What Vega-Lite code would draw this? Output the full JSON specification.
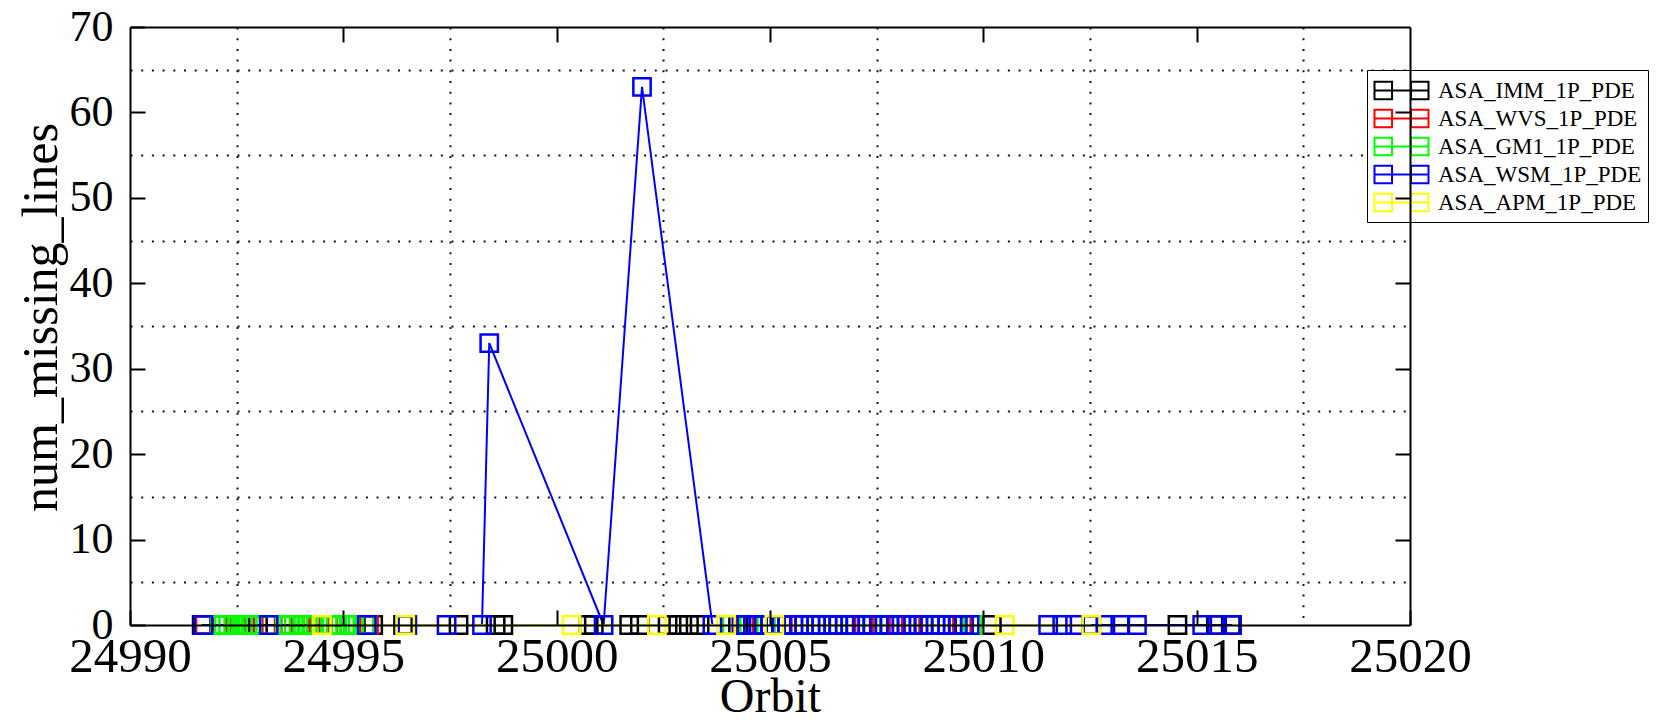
{
  "$schema": "https://vega.github.io/schema/vega-lite/v6.json",
  "width": 1280,
  "height": 598,
  "autosize": "none",
  "padding": {"left": 130, "top": 27, "right": 249, "bottom": 99},
  "background": "white",
  "config": {"view": {"stroke": null}, "font": "Liberation Serif"},
  "data": {"values": [
    {"orbit": 24991.68, "num_missing_lines": 0, "product": "ASA_IMM_1P_PDE"},
    {"orbit": 24993.0, "num_missing_lines": 0, "product": "ASA_IMM_1P_PDE"},
    {"orbit": 24995.7, "num_missing_lines": 0, "product": "ASA_IMM_1P_PDE"},
    {"orbit": 24996.4, "num_missing_lines": 0, "product": "ASA_IMM_1P_PDE"},
    {"orbit": 24997.7, "num_missing_lines": 0, "product": "ASA_IMM_1P_PDE"},
    {"orbit": 24998.57, "num_missing_lines": 0, "product": "ASA_IMM_1P_PDE"},
    {"orbit": 24998.75, "num_missing_lines": 0, "product": "ASA_IMM_1P_PDE"},
    {"orbit": 25000.75, "num_missing_lines": 0, "product": "ASA_IMM_1P_PDE"},
    {"orbit": 25000.87, "num_missing_lines": 0, "product": "ASA_IMM_1P_PDE"},
    {"orbit": 25001.7, "num_missing_lines": 0, "product": "ASA_IMM_1P_PDE"},
    {"orbit": 25001.95, "num_missing_lines": 0, "product": "ASA_IMM_1P_PDE"},
    {"orbit": 25002.6, "num_missing_lines": 0, "product": "ASA_IMM_1P_PDE"},
    {"orbit": 25002.85, "num_missing_lines": 0, "product": "ASA_IMM_1P_PDE"},
    {"orbit": 25003.1, "num_missing_lines": 0, "product": "ASA_IMM_1P_PDE"},
    {"orbit": 25003.35, "num_missing_lines": 0, "product": "ASA_IMM_1P_PDE"},
    {"orbit": 25004.25, "num_missing_lines": 0, "product": "ASA_IMM_1P_PDE"},
    {"orbit": 25010.2, "num_missing_lines": 0, "product": "ASA_IMM_1P_PDE"},
    {"orbit": 25014.55, "num_missing_lines": 0, "product": "ASA_IMM_1P_PDE"},
    {"orbit": 25015.45, "num_missing_lines": 0, "product": "ASA_IMM_1P_PDE"},
    {"orbit": 25015.8, "num_missing_lines": 0, "product": "ASA_IMM_1P_PDE"},

    {"orbit": 24991.75, "num_missing_lines": 0, "product": "ASA_WVS_1P_PDE"},
    {"orbit": 24992.15, "num_missing_lines": 0, "product": "ASA_WVS_1P_PDE"},
    {"orbit": 24992.45, "num_missing_lines": 0, "product": "ASA_WVS_1P_PDE"},
    {"orbit": 24992.7, "num_missing_lines": 0, "product": "ASA_WVS_1P_PDE"},
    {"orbit": 24992.9, "num_missing_lines": 0, "product": "ASA_WVS_1P_PDE"},
    {"orbit": 24993.6, "num_missing_lines": 0, "product": "ASA_WVS_1P_PDE"},
    {"orbit": 24993.75, "num_missing_lines": 0, "product": "ASA_WVS_1P_PDE"},
    {"orbit": 24994.0, "num_missing_lines": 0, "product": "ASA_WVS_1P_PDE"},
    {"orbit": 24994.45, "num_missing_lines": 0, "product": "ASA_WVS_1P_PDE"},
    {"orbit": 24994.65, "num_missing_lines": 0, "product": "ASA_WVS_1P_PDE"},
    {"orbit": 24995.6, "num_missing_lines": 0, "product": "ASA_WVS_1P_PDE"},
    {"orbit": 25004.4, "num_missing_lines": 0, "product": "ASA_WVS_1P_PDE"},
    {"orbit": 25005.3, "num_missing_lines": 0, "product": "ASA_WVS_1P_PDE"},
    {"orbit": 25007.2, "num_missing_lines": 0, "product": "ASA_WVS_1P_PDE"},
    {"orbit": 25007.6, "num_missing_lines": 0, "product": "ASA_WVS_1P_PDE"},
    {"orbit": 25008.3, "num_missing_lines": 0, "product": "ASA_WVS_1P_PDE"},
    {"orbit": 25008.6, "num_missing_lines": 0, "product": "ASA_WVS_1P_PDE"},
    {"orbit": 25009.5, "num_missing_lines": 0, "product": "ASA_WVS_1P_PDE"},

    {"orbit": 24992.1, "num_missing_lines": 0, "product": "ASA_GM1_1P_PDE"},
    {"orbit": 24992.2, "num_missing_lines": 0, "product": "ASA_GM1_1P_PDE"},
    {"orbit": 24992.3, "num_missing_lines": 0, "product": "ASA_GM1_1P_PDE"},
    {"orbit": 24992.42, "num_missing_lines": 0, "product": "ASA_GM1_1P_PDE"},
    {"orbit": 24992.53, "num_missing_lines": 0, "product": "ASA_GM1_1P_PDE"},
    {"orbit": 24992.65, "num_missing_lines": 0, "product": "ASA_GM1_1P_PDE"},
    {"orbit": 24992.76, "num_missing_lines": 0, "product": "ASA_GM1_1P_PDE"},
    {"orbit": 24992.86, "num_missing_lines": 0, "product": "ASA_GM1_1P_PDE"},
    {"orbit": 24993.25, "num_missing_lines": 0, "product": "ASA_GM1_1P_PDE"},
    {"orbit": 24993.63, "num_missing_lines": 0, "product": "ASA_GM1_1P_PDE"},
    {"orbit": 24993.73, "num_missing_lines": 0, "product": "ASA_GM1_1P_PDE"},
    {"orbit": 24993.84, "num_missing_lines": 0, "product": "ASA_GM1_1P_PDE"},
    {"orbit": 24993.95, "num_missing_lines": 0, "product": "ASA_GM1_1P_PDE"},
    {"orbit": 24994.06, "num_missing_lines": 0, "product": "ASA_GM1_1P_PDE"},
    {"orbit": 24994.17, "num_missing_lines": 0, "product": "ASA_GM1_1P_PDE"},
    {"orbit": 24994.28, "num_missing_lines": 0, "product": "ASA_GM1_1P_PDE"},
    {"orbit": 24994.5, "num_missing_lines": 0, "product": "ASA_GM1_1P_PDE"},
    {"orbit": 24994.72, "num_missing_lines": 0, "product": "ASA_GM1_1P_PDE"},
    {"orbit": 24994.82, "num_missing_lines": 0, "product": "ASA_GM1_1P_PDE"},
    {"orbit": 24994.93, "num_missing_lines": 0, "product": "ASA_GM1_1P_PDE"},
    {"orbit": 24995.04, "num_missing_lines": 0, "product": "ASA_GM1_1P_PDE"},
    {"orbit": 24995.15, "num_missing_lines": 0, "product": "ASA_GM1_1P_PDE"},
    {"orbit": 24995.26, "num_missing_lines": 0, "product": "ASA_GM1_1P_PDE"},
    {"orbit": 24995.5, "num_missing_lines": 0, "product": "ASA_GM1_1P_PDE"},
    {"orbit": 25004.1, "num_missing_lines": 0, "product": "ASA_GM1_1P_PDE"},
    {"orbit": 25004.5, "num_missing_lines": 0, "product": "ASA_GM1_1P_PDE"},
    {"orbit": 25004.9, "num_missing_lines": 0, "product": "ASA_GM1_1P_PDE"},
    {"orbit": 25005.4, "num_missing_lines": 0, "product": "ASA_GM1_1P_PDE"},
    {"orbit": 25005.8, "num_missing_lines": 0, "product": "ASA_GM1_1P_PDE"},
    {"orbit": 25006.2, "num_missing_lines": 0, "product": "ASA_GM1_1P_PDE"},
    {"orbit": 25006.6, "num_missing_lines": 0, "product": "ASA_GM1_1P_PDE"},
    {"orbit": 25007.0, "num_missing_lines": 0, "product": "ASA_GM1_1P_PDE"},
    {"orbit": 25007.4, "num_missing_lines": 0, "product": "ASA_GM1_1P_PDE"},
    {"orbit": 25007.8, "num_missing_lines": 0, "product": "ASA_GM1_1P_PDE"},
    {"orbit": 25008.2, "num_missing_lines": 0, "product": "ASA_GM1_1P_PDE"},
    {"orbit": 25008.6, "num_missing_lines": 0, "product": "ASA_GM1_1P_PDE"},
    {"orbit": 25009.0, "num_missing_lines": 0, "product": "ASA_GM1_1P_PDE"},
    {"orbit": 25009.4, "num_missing_lines": 0, "product": "ASA_GM1_1P_PDE"},
    {"orbit": 25009.75, "num_missing_lines": 0, "product": "ASA_GM1_1P_PDE"},

    {"orbit": 24991.72, "num_missing_lines": 0, "product": "ASA_WSM_1P_PDE"},
    {"orbit": 24993.25, "num_missing_lines": 0, "product": "ASA_WSM_1P_PDE"},
    {"orbit": 24995.55, "num_missing_lines": 0, "product": "ASA_WSM_1P_PDE"},
    {"orbit": 24996.5, "num_missing_lines": 0, "product": "ASA_WSM_1P_PDE"},
    {"orbit": 24997.42, "num_missing_lines": 0, "product": "ASA_WSM_1P_PDE"},
    {"orbit": 24998.25, "num_missing_lines": 0, "product": "ASA_WSM_1P_PDE"},
    {"orbit": 24998.42, "num_missing_lines": 33, "product": "ASA_WSM_1P_PDE"},
    {"orbit": 25001.1, "num_missing_lines": 0, "product": "ASA_WSM_1P_PDE"},
    {"orbit": 25002.0, "num_missing_lines": 63, "product": "ASA_WSM_1P_PDE"},
    {"orbit": 25003.65, "num_missing_lines": 0, "product": "ASA_WSM_1P_PDE"},
    {"orbit": 25004.33, "num_missing_lines": 0, "product": "ASA_WSM_1P_PDE"},
    {"orbit": 25004.45, "num_missing_lines": 0, "product": "ASA_WSM_1P_PDE"},
    {"orbit": 25004.6, "num_missing_lines": 0, "product": "ASA_WSM_1P_PDE"},
    {"orbit": 25004.72, "num_missing_lines": 0, "product": "ASA_WSM_1P_PDE"},
    {"orbit": 25004.85, "num_missing_lines": 0, "product": "ASA_WSM_1P_PDE"},
    {"orbit": 25005.0, "num_missing_lines": 0, "product": "ASA_WSM_1P_PDE"},
    {"orbit": 25005.12, "num_missing_lines": 0, "product": "ASA_WSM_1P_PDE"},
    {"orbit": 25005.27, "num_missing_lines": 0, "product": "ASA_WSM_1P_PDE"},
    {"orbit": 25005.4, "num_missing_lines": 0, "product": "ASA_WSM_1P_PDE"},
    {"orbit": 25005.55, "num_missing_lines": 0, "product": "ASA_WSM_1P_PDE"},
    {"orbit": 25005.68, "num_missing_lines": 0, "product": "ASA_WSM_1P_PDE"},
    {"orbit": 25005.8, "num_missing_lines": 0, "product": "ASA_WSM_1P_PDE"},
    {"orbit": 25005.95, "num_missing_lines": 0, "product": "ASA_WSM_1P_PDE"},
    {"orbit": 25006.08, "num_missing_lines": 0, "product": "ASA_WSM_1P_PDE"},
    {"orbit": 25006.2, "num_missing_lines": 0, "product": "ASA_WSM_1P_PDE"},
    {"orbit": 25006.35, "num_missing_lines": 0, "product": "ASA_WSM_1P_PDE"},
    {"orbit": 25006.48, "num_missing_lines": 0, "product": "ASA_WSM_1P_PDE"},
    {"orbit": 25006.6, "num_missing_lines": 0, "product": "ASA_WSM_1P_PDE"},
    {"orbit": 25006.75, "num_missing_lines": 0, "product": "ASA_WSM_1P_PDE"},
    {"orbit": 25006.88, "num_missing_lines": 0, "product": "ASA_WSM_1P_PDE"},
    {"orbit": 25007.0, "num_missing_lines": 0, "product": "ASA_WSM_1P_PDE"},
    {"orbit": 25007.15, "num_missing_lines": 0, "product": "ASA_WSM_1P_PDE"},
    {"orbit": 25007.28, "num_missing_lines": 0, "product": "ASA_WSM_1P_PDE"},
    {"orbit": 25007.4, "num_missing_lines": 0, "product": "ASA_WSM_1P_PDE"},
    {"orbit": 25007.55, "num_missing_lines": 0, "product": "ASA_WSM_1P_PDE"},
    {"orbit": 25007.68, "num_missing_lines": 0, "product": "ASA_WSM_1P_PDE"},
    {"orbit": 25007.8, "num_missing_lines": 0, "product": "ASA_WSM_1P_PDE"},
    {"orbit": 25007.95, "num_missing_lines": 0, "product": "ASA_WSM_1P_PDE"},
    {"orbit": 25008.08, "num_missing_lines": 0, "product": "ASA_WSM_1P_PDE"},
    {"orbit": 25008.2, "num_missing_lines": 0, "product": "ASA_WSM_1P_PDE"},
    {"orbit": 25008.35, "num_missing_lines": 0, "product": "ASA_WSM_1P_PDE"},
    {"orbit": 25008.48, "num_missing_lines": 0, "product": "ASA_WSM_1P_PDE"},
    {"orbit": 25008.6, "num_missing_lines": 0, "product": "ASA_WSM_1P_PDE"},
    {"orbit": 25008.75, "num_missing_lines": 0, "product": "ASA_WSM_1P_PDE"},
    {"orbit": 25008.88, "num_missing_lines": 0, "product": "ASA_WSM_1P_PDE"},
    {"orbit": 25009.0, "num_missing_lines": 0, "product": "ASA_WSM_1P_PDE"},
    {"orbit": 25009.15, "num_missing_lines": 0, "product": "ASA_WSM_1P_PDE"},
    {"orbit": 25009.28, "num_missing_lines": 0, "product": "ASA_WSM_1P_PDE"},
    {"orbit": 25009.4, "num_missing_lines": 0, "product": "ASA_WSM_1P_PDE"},
    {"orbit": 25009.55, "num_missing_lines": 0, "product": "ASA_WSM_1P_PDE"},
    {"orbit": 25009.68, "num_missing_lines": 0, "product": "ASA_WSM_1P_PDE"},
    {"orbit": 25011.52, "num_missing_lines": 0, "product": "ASA_WSM_1P_PDE"},
    {"orbit": 25011.85, "num_missing_lines": 0, "product": "ASA_WSM_1P_PDE"},
    {"orbit": 25012.15, "num_missing_lines": 0, "product": "ASA_WSM_1P_PDE"},
    {"orbit": 25012.53, "num_missing_lines": 0, "product": "ASA_WSM_1P_PDE"},
    {"orbit": 25012.86, "num_missing_lines": 0, "product": "ASA_WSM_1P_PDE"},
    {"orbit": 25013.21, "num_missing_lines": 0, "product": "ASA_WSM_1P_PDE"},
    {"orbit": 25013.6, "num_missing_lines": 0, "product": "ASA_WSM_1P_PDE"},
    {"orbit": 25015.13, "num_missing_lines": 0, "product": "ASA_WSM_1P_PDE"},
    {"orbit": 25015.48, "num_missing_lines": 0, "product": "ASA_WSM_1P_PDE"},
    {"orbit": 25015.83, "num_missing_lines": 0, "product": "ASA_WSM_1P_PDE"},

    {"orbit": 24994.5, "num_missing_lines": 0, "product": "ASA_APM_1P_PDE"},
    {"orbit": 24996.45, "num_missing_lines": 0, "product": "ASA_APM_1P_PDE"},
    {"orbit": 25000.35, "num_missing_lines": 0, "product": "ASA_APM_1P_PDE"},
    {"orbit": 25002.35, "num_missing_lines": 0, "product": "ASA_APM_1P_PDE"},
    {"orbit": 25003.97, "num_missing_lines": 0, "product": "ASA_APM_1P_PDE"},
    {"orbit": 25005.1, "num_missing_lines": 0, "product": "ASA_APM_1P_PDE"},
    {"orbit": 25010.5, "num_missing_lines": 0, "product": "ASA_APM_1P_PDE"},
    {"orbit": 25012.53, "num_missing_lines": 0, "product": "ASA_APM_1P_PDE"}
  ]},
  "layer": [
    {
      "mark": {"type": "line", "strokeWidth": 2, "clip": false},
      "encoding": {
        "x": {"field": "orbit", "type": "quantitative", "scale": {"domain": [24990, 25020], "nice": false, "zero": false},
          "axis": {"orient": "bottom", "values": [24992.5, 24997.5, 25002.5, 25007.5, 25012.5, 25017.5], "grid": true, "gridColor": "#111111", "gridWidth": 2, "gridDash": [2, 8.7], "gridOpacity": 1, "labels": false, "ticks": false, "domain": false, "title": null, "zindex": 0}},
        "y": {"field": "num_missing_lines", "type": "quantitative", "scale": {"domain": [0, 70], "nice": false},
          "axis": {"orient": "left", "values": [5, 15, 25, 35, 45, 55, 65], "grid": true, "gridColor": "#111111", "gridWidth": 2, "gridDash": [2, 8.7], "gridOpacity": 1, "labels": false, "ticks": false, "domain": false, "title": null, "zindex": 0}},
        "color": {"field": "product", "type": "nominal",
          "scale": {"domain": ["ASA_IMM_1P_PDE", "ASA_WVS_1P_PDE", "ASA_GM1_1P_PDE", "ASA_WSM_1P_PDE", "ASA_APM_1P_PDE"], "range": ["#000000", "#ff0000", "#00ff00", "#0000ff", "#ffff00"]},
          "legend": {"title": null, "orient": "none", "legendX": 1237, "legendY": 43,
            "symbolType": "M-2,-0.65H-0.7V0.65H-2Z M0.7,-0.65H2V0.65H0.7Z M-2,0H2",
            "symbolSize": 729, "symbolStrokeWidth": 2, "symbolFillColor": "transparent",
            "symbolOffset": 14, "labelOffset": 22,
            "labelFont": "Liberation Serif", "labelFontSize": 23, "labelColor": "black", "labelLimit": 400,
            "strokeColor": "black", "fillColor": "white", "padding": 6, "rowPadding": -3}}
      }
    },
    {
      "mark": {"type": "point", "shape": "square", "filled": false, "size": 300, "strokeWidth": 2.5, "opacity": 1, "clip": false},
      "encoding": {
        "x": {"field": "orbit", "type": "quantitative",
          "axis": {"orient": "bottom", "values": [24990, 24995, 25000, 25005, 25010, 25015, 25020], "format": "d", "grid": false, "labels": true, "labelFlush": false, "labelOverlap": false, "labelFontSize": 49, "labelColor": "black", "labelPadding": 22, "ticks": true, "tickSize": -15, "tickWidth": 2, "tickColor": "black", "domain": true, "domainColor": "black", "domainWidth": 2, "title": "Orbit", "titleFontSize": 48, "titleFontWeight": "normal", "titleColor": "black", "titlePadding": -8, "zindex": 1}},
        "y": {"field": "num_missing_lines", "type": "quantitative",
          "axis": {"orient": "left", "values": [0, 10, 20, 30, 40, 50, 60, 70], "format": "d", "grid": false, "labels": true, "labelFontSize": 44, "labelColor": "black", "labelPadding": 32, "labelFlush": false, "labelOverlap": false, "ticks": true, "tickSize": -15, "tickWidth": 2, "tickColor": "black", "domain": true, "domainColor": "black", "domainWidth": 2, "title": "num_missing_lines", "titleFontSize": 50, "titleFontWeight": "normal", "titleColor": "black", "titlePadding": 3, "titleY": 290, "zindex": 1}},
        "color": {"field": "product", "type": "nominal",
          "legend": {"title": null, "orient": "none", "legendX": 1237, "legendY": 43,
            "symbolType": "M-2,-0.65H-0.7V0.65H-2Z M0.7,-0.65H2V0.65H0.7Z M-2,0H2",
            "symbolSize": 729, "symbolStrokeWidth": 2, "symbolFillColor": "transparent",
            "symbolOffset": 14, "labelOffset": 22,
            "labelFont": "Liberation Serif", "labelFontSize": 23, "labelColor": "black", "labelLimit": 400,
            "strokeColor": "black", "fillColor": "white", "padding": 6, "rowPadding": -3}}
      }
    },
    {
      "mark": {"type": "point", "opacity": 0},
      "encoding": {
        "x": {"field": "orbit", "type": "quantitative",
          "axis": {"orient": "top", "values": [24995, 25000, 25005, 25010, 25015], "grid": false, "labels": false, "ticks": true, "tickSize": -15, "tickWidth": 2, "tickColor": "black", "domain": true, "domainColor": "black", "domainWidth": 2, "title": null, "zindex": 1}},
        "y": {"field": "num_missing_lines", "type": "quantitative",
          "axis": {"orient": "right", "values": [10, 20, 30, 40, 50, 60], "grid": false, "labels": false, "ticks": true, "tickSize": -15, "tickWidth": 2, "tickColor": "black", "domain": true, "domainColor": "black", "domainWidth": 2, "title": null, "zindex": 1}}
      }
    }
  ],
  "resolve": {"axis": {"x": "independent", "y": "independent"}}
}
